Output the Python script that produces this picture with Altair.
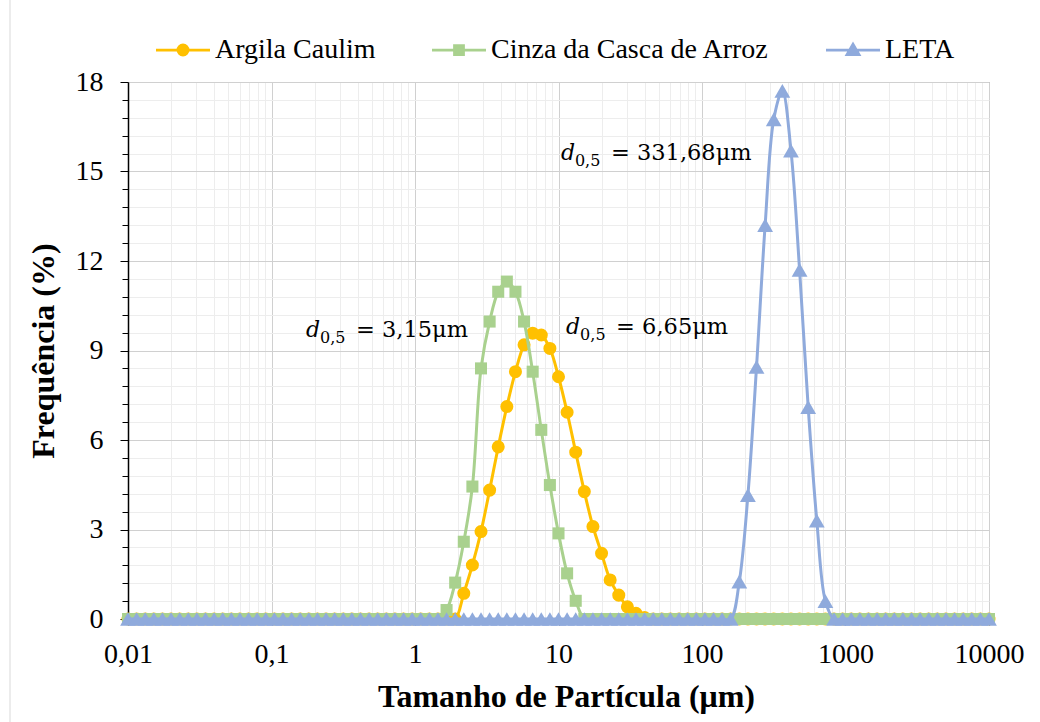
import altair as alt
import pandas as pd

# particle size classes (µm)
sizes = [0.01, 0.011482, 0.013183, 0.015136, 0.017378, 0.019953, 0.022909, 0.026303, 0.030200, 0.034674,
         0.039811, 0.045709, 0.052481, 0.060256, 0.069183, 0.079433, 0.091201, 0.10471, 0.12023, 0.13804,
         0.15849, 0.18197, 0.20893, 0.23988, 0.27542, 0.31623, 0.36308, 0.41687, 0.47863, 0.54954,
         0.63096, 0.72444, 0.83176, 0.95499, 1.0965, 1.2589, 1.4454, 1.6596, 1.9055, 2.1878,
         2.5119, 2.8840, 3.3113, 3.8019, 4.3652, 5.0119, 5.7544, 6.6069, 7.5858, 8.7096,
         10.0, 11.482, 13.183, 15.136, 17.378, 19.953, 22.909, 26.303, 30.200, 34.674,
         39.811, 45.709, 52.481, 60.256, 69.183, 79.433, 91.201, 104.71, 120.23, 138.04,
         158.49, 181.97, 208.93, 239.88, 275.42, 316.23, 363.08, 416.87, 478.63, 549.54,
         630.96, 724.44, 831.76, 954.99, 1096.5, 1258.9, 1445.4, 1659.6, 1905.5, 2187.8,
         2511.9, 2884.0, 3311.3, 3801.9, 4365.2, 5011.9, 5754.4, 6606.9, 7585.8, 8709.6,
         10000.0]

argila = [0.0] * 39 + [0.86, 1.81, 2.93, 4.32, 5.77, 7.12, 8.29, 9.19, 9.58, 9.52, 9.07,
                       8.12, 6.93, 5.59, 4.27, 3.10, 2.20, 1.31, 0.80, 0.41, 0.19, 0.05] + [0.0] * 40
cinza = [0.0] * 37 + [0.30, 1.22, 2.59, 4.44, 8.40, 9.97, 10.97, 11.31, 10.97, 9.97, 8.29,
                      6.34, 4.49, 2.87, 1.53, 0.61] + [0.0] * 48
leta = [0.0] * 71 + [1.25, 4.15, 8.45, 13.2, 16.75, 17.7, 15.7, 11.7, 7.1, 3.3, 0.6] + [0.0] * 19

series_names = ["Argila Caulim", "Cinza da Casca de Arroz", "LETA"]
series_colors = ["#FFC000", "#A9D18E", "#8FAADC"]
series_shapes = ["circle", "square", "triangle-up"]
series_sizes = [170, 145, 250]
legend_paths = [
    "M-4.5,0H4.5M-0.85,0A0.85,0.85,0,1,0,0.85,0A0.85,0.85,0,1,0,-0.85,0Z",
    "M-4.5,0H4.5M-0.75,-0.75H0.75V0.75H-0.75Z",
    "M-4.5,0H4.5M0,-0.95L1.0,0.75H-1.0Z",
]

x_ticks = [0.01, 0.02, 0.03, 0.04, 0.05, 0.06, 0.07, 0.08, 0.09,
           0.1, 0.2, 0.3, 0.4, 0.5, 0.6, 0.7, 0.8, 0.9,
           1, 2, 3, 4, 5, 6, 7, 8, 9,
           10, 20, 30, 40, 50, 60, 70, 80, 90,
           100, 200, 300, 400, 500, 600, 700, 800, 900,
           1000, 2000, 3000, 4000, 5000, 6000, 7000, 8000, 9000, 10000]
y_ticks = [0, 0.6, 1.2, 1.8, 2.4, 3, 3.6, 4.2, 4.8, 5.4, 6, 6.6, 7.2, 7.8, 8.4, 9, 9.6, 10.2, 10.8,
           11.4, 12, 12.6, 13.2, 13.8, 14.4, 15, 15.6, 16.2, 16.8, 17.4, 18]

ann_first = ["d", "d", "d"]
ann_sub = ["0,5", "0,5", "0,5"]
ann_rest = ["=  3,15μm", "=  6,65μm", "=  331,68μm"]
ann_x = [0.174, 11.3, 10.4]
ann_y = [9.69, 9.79, 15.62]

rows = []
for name, vals in zip(series_names, [argila, cinza, leta]):
    for i, (s, v) in enumerate(zip(sizes, vals)):
        rows.append({"series": name, "idx": i, "size": s, "freq": v})
df = pd.DataFrame(rows)
ann = pd.DataFrame({"first": ann_first, "sub": ann_sub, "rest": ann_rest, "x": ann_x, "y": ann_y})

FONT = "Liberation Serif"
MATH = "DejaVu Serif"
decade = "abs(log(datum.value)/LN10 - round(log(datum.value)/LN10)) < 0.001"
major_y = "abs(datum.value/3 - round(datum.value/3)) < 0.001"

x_axis = alt.Axis(
    values=x_ticks, tickCount=200,
    labelExpr=f"({decade}) ? replace(format(datum.value, '.2~f'), '.', ',') : ''",
    gridColor={"condition": {"test": decade, "value": "#D0D0D0"}, "value": "#EDEDED"},
    tickSize={"condition": {"test": decade, "value": 6}, "value": 0},
    tickColor="#000000",
    domainColor="#000000",
    labelFont=FONT, labelFontSize=28, labelColor="#000000", labelPadding=15,
    labelFlush=False, labelOverlap=False,
    title="Tamanho de Partícula (μm)", titleFont=FONT, titleFontSize=32, titleFontWeight="bold",
    titleColor="#000000", titlePadding=13, titleX=438,
)
y_axis = alt.Axis(
    values=y_ticks, tickCount=200,
    labelExpr=f"({major_y}) ? format(datum.value, '.0f') : ''",
    gridColor={"condition": {"test": major_y, "value": "#D0D0D0"}, "value": "#EDEDED"},
    tickSize={"condition": {"test": major_y, "value": 8}, "value": 6},
    tickColor="#000000",
    domainColor="#000000", domainWidth=1.5,
    labelFont=FONT, labelFontSize=28, labelColor="#000000", labelPadding=17,
    labelOverlap=False, labelFlush=False,
    title="Frequência (%)", titleFont=FONT, titleFontSize=32, titleFontWeight="bold",
    titleColor="#000000", titlePadding=15,
)
X = alt.X("size:Q", scale=alt.Scale(type="log", domain=[0.01, 10000]), axis=x_axis)
Y = alt.Y("freq:Q", scale=alt.Scale(domain=[0, 18]), axis=y_axis)

layers = []
for name, col, shp, sz in zip(series_names, series_colors, series_shapes, series_sizes):
    base = alt.Chart(df).transform_filter(alt.datum.series == name)
    layers.append(base.mark_line(color=col, strokeWidth=3, interpolate="catmull-rom").encode(x=X, y=Y))
    layers.append(base.mark_point(filled=True, color=col, shape=shp, size=sz, opacity=1).encode(x=X, y=Y))

leg = alt.Legend(
    title=None, orient="none", legendX=41, legendY=-46, direction="horizontal",
    labelFont=FONT, labelFontSize=28, labelColor="#000000", labelOffset=18, labelLimit=500,
    symbolSize=144, symbolStrokeWidth=2.75, columnPadding=50, symbolOpacity=1,
)
legend_layer = alt.Chart(df).transform_filter(alt.datum.freq < -1).mark_point(
    filled=True, opacity=1, size=144, strokeWidth=2.75
).encode(
    x=X, y=Y,
    color=alt.Color("series:N", scale=alt.Scale(domain=series_names, range=series_colors), legend=leg),
    stroke=alt.Stroke("series:N", scale=alt.Scale(domain=series_names, range=series_colors), legend=leg),
    shape=alt.Shape("series:N", scale=alt.Scale(domain=series_names, range=legend_paths), legend=leg),
)

ann_base = alt.Chart(ann).encode(x=alt.X("x:Q"), y=alt.Y("y:Q"))
t1 = ann_base.mark_text(font=MATH, fontSize=22, fontStyle="italic", align="left", baseline="middle").encode(text="first:N")
t2 = ann_base.mark_text(font=MATH, fontSize=16, align="left", baseline="middle", dx=14, dy=8).encode(text="sub:N")
t3 = ann_base.mark_text(font=MATH, fontSize=22.5, align="left", baseline="middle", dx=50).encode(text="rest:N")

border = alt.Chart(pd.DataFrame({"a": [0]})).mark_rule(color="#D9D9D9", strokeWidth=1).encode(
    x=alt.value(-118), y=alt.value(-82), y2=alt.value(640)
)

chart = alt.layer(*layers, legend_layer, t1, t2, t3, border).properties(
    width=861, height=537,
    padding={"left": 128, "top": 82, "right": 51, "bottom": 103},
    autosize=alt.AutoSizeParams(type="none"),
    background="white",
).configure_view(stroke="#8C8C8C", strokeWidth=1)

chart.save("out.html", embed_options={"renderer": "svg", "actions": False})
